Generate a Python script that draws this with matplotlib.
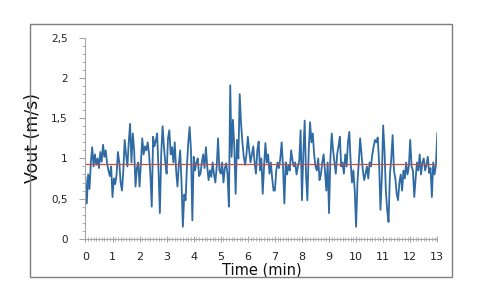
import numpy as np
import matplotlib
matplotlib.use("Agg")
import matplotlib.pyplot as plt
from matplotlib.patches import Rectangle
from matplotlib.ticker import MultipleLocator, FuncFormatter

# wind speed samples, 20 per minute
vout = [
    0.77, 0.44, 0.80, 0.62, 0.95, 1.14, 0.90, 1.05, 0.92, 1.00, 0.88, 1.08, 0.96, 1.17, 1.02, 1.10, 0.94, 0.85, 0.78, 0.90,
    0.52, 0.75, 0.68, 0.80, 1.08, 0.95, 0.70, 0.60, 0.85, 1.23, 1.05, 0.90, 1.20, 1.43, 0.95, 1.31, 1.10, 0.65, 0.88, 0.95,
    0.65, 0.95, 1.25, 1.05, 1.15, 1.10, 1.20, 1.06, 0.80, 0.40, 1.27, 1.15, 1.22, 1.31, 0.85, 0.32, 1.05, 1.40, 1.15, 0.95,
    0.81, 1.25, 1.35, 1.05, 1.14, 0.95, 1.20, 0.85, 0.65, 0.92, 1.10, 0.70, 0.15, 0.55, 0.48, 0.90, 1.20, 1.39, 1.10, 0.23,
    1.02, 0.85, 0.95, 1.00, 0.78, 0.81, 0.95, 1.05, 0.88, 1.14, 0.90, 0.73, 0.85, 0.77, 0.95, 0.80, 0.70, 0.90, 1.25, 0.85,
    0.81, 0.95, 0.70, 0.88, 0.94, 0.80, 0.40, 1.91, 1.02, 1.48, 1.15, 0.56, 1.23, 1.00, 1.80, 1.43, 1.20, 1.02, 0.92, 1.05,
    1.27, 1.10, 0.95, 1.05, 1.15, 0.95, 0.81, 1.10, 1.21, 0.85, 1.00, 0.56, 0.90, 1.19, 0.95, 1.05, 0.81, 0.95, 0.75, 0.60,
    0.60, 0.85, 0.95, 0.88, 1.00, 1.20, 0.90, 0.44, 0.95, 0.80, 0.92, 0.85, 1.10, 0.98, 0.90, 0.95, 0.80, 0.90, 0.97, 1.35,
    0.48, 1.05, 1.47, 0.80, 0.48, 1.10, 1.45, 1.20, 1.31, 1.05, 0.90, 0.85, 1.00, 0.73, 0.80, 0.95, 1.05, 0.85, 0.60, 0.95,
    0.32, 1.00, 1.31, 1.10, 0.95, 0.81, 1.05, 1.15, 1.27, 0.90, 0.95, 0.81, 1.05, 0.90, 1.20, 1.33, 0.95, 0.70, 0.85, 0.60,
    0.15, 0.70, 0.95, 1.25, 1.05, 0.85, 0.73, 0.81, 0.90, 0.75, 0.95, 0.90, 1.05, 1.15, 1.23, 1.20, 1.26, 0.95, 0.36, 0.75,
    1.41, 1.10, 0.60, 0.35, 0.21, 0.80, 1.00, 1.29, 0.85, 0.75, 0.56, 0.48, 0.70, 0.80, 0.60, 0.85, 0.75, 0.95, 0.80, 0.90,
    1.23, 0.90, 0.85, 0.52, 0.75, 0.95, 0.85, 1.05, 0.80, 0.95, 1.00, 0.85, 0.92, 1.02, 0.82, 0.88, 0.52, 0.95, 0.80, 0.92,
    1.31,
]
t_min = np.linspace(0, 13, len(vout))
mean_vout = 0.925

fig = plt.figure(figsize=(4.8, 3.05), dpi=100)
fig.patches.append(Rectangle((0.0625, 0.092), 0.879, 0.829, transform=fig.transFigure,
                             fill=False, edgecolor="#7f7f7f", lw=1.0))
ax = fig.add_axes([0.178, 0.217, 0.733, 0.659])

ax.plot(t_min, vout, color="#2f6aa3", lw=1.3)
ax.plot([0, 13], [mean_vout, mean_vout], color="#c0504d", lw=0.9)

ax.set_xlim(0, 13)
ax.set_ylim(0, 2.5)
ax.xaxis.set_major_locator(MultipleLocator(1))
ax.xaxis.set_minor_locator(MultipleLocator(0.1))
ax.yaxis.set_major_locator(MultipleLocator(0.5))
ax.yaxis.set_minor_locator(MultipleLocator(0.1))
ax.yaxis.set_major_formatter(FuncFormatter(lambda v, p: f"{v:g}".replace(".", ",")))

for s in ["top", "right"]:
    ax.spines[s].set_visible(False)
for s in ["left", "bottom"]:
    ax.spines[s].set_color("#a6a6a6")
    ax.spines[s].set_linewidth(0.8)

ax.tick_params(axis="both", which="both", color="#a6a6a6", labelcolor="#222222")
ax.tick_params(axis="x", which="major", direction="inout", length=5, pad=7, labelsize=8)
ax.tick_params(axis="x", which="minor", direction="inout", length=3)
ax.tick_params(axis="y", which="major", direction="out", length=4, pad=9, labelsize=7.5)
ax.tick_params(axis="y", which="minor", direction="out", length=2)

ax.set_xlabel("Time (min)", fontsize=10.5, labelpad=0, color="#111111")
ax.set_ylabel("Vout (m/s)", fontsize=12.5, labelpad=6, color="#111111")

fig.savefig("out.png", dpi=100)
